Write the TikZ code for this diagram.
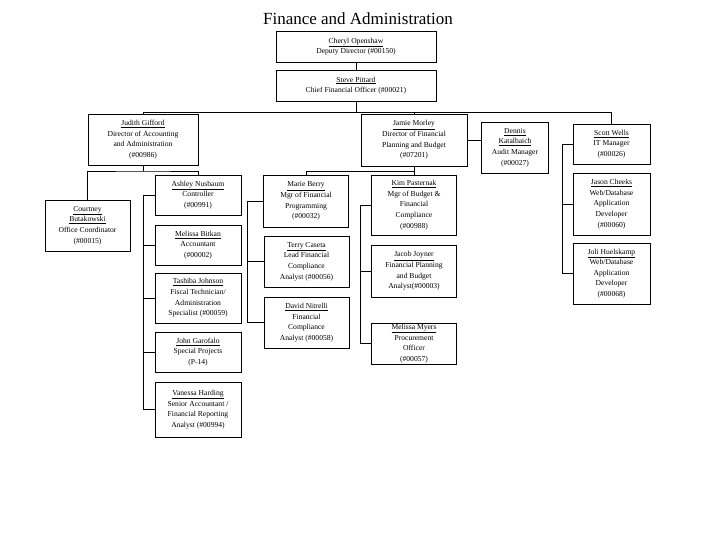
\documentclass[tikz,border=0pt]{standalone}
\usepackage{fontspec}
\setmainfont{Liberation Serif}
\begin{document}
\begin{tikzpicture}[x=1pt,y=-1pt,
 box/.style={draw,line width=0.8pt,align=center,inner sep=1pt,font=\fontsize{7.6}{10.6}\selectfont},
 ln/.style={line width=0.8pt}]
\useasboundingbox (0,0) rectangle (720,540);
\node[font=\fontsize{17}{20}\selectfont] (title) at (358,19) {Finance and Administration};
\node[box,minimum width=160,minimum height=31] (cheryl) at (356,46.5) {\underline{Cheryl Openshaw}\\Deputy Director (\#00150)};
\node[box,minimum width=160,minimum height=31] (steve) at (356,85.5) {\underline{Steve Pittard}\\Chief Financial Officer (\#00021)};
\node[box,minimum width=110,minimum height=51] (judith) at (143,139.5) {\underline{Judith Gifford}\\Director of Accounting\\and Administration\\(\#00986)};
\node[box,minimum width=106,minimum height=52] (jamie) at (414,140) {\underline{Jamie Morley}\\Director of Financial\\Planning and Budget\\(\#07201)};
\node[box,minimum width=67,minimum height=51] (dennis) at (515,147.5) {\underline{Dennis}\\\underline{Katalbaich}\\Audit Manager\\(\#00027)};
\node[box,minimum width=77,minimum height=40] (scott) at (611.5,144) {\underline{Scott Wells}\\IT Manager\\(\#00026)};
\node[box,minimum width=85,minimum height=51] (courtney) at (87.5,225.5) {\underline{Courtney}\\\underline{Butakowski}\\Office Coordinator\\(\#00015)};
\node[box,minimum width=86,minimum height=40] (ashley) at (198,195) {\underline{Ashley Nusbaum}\\Controller\\(\#00991)};
\node[box,minimum width=86,minimum height=40] (melb) at (198,245) {\underline{Melissa Bitkan}\\Accountant\\(\#00002)};
\node[box,minimum width=86,minimum height=50] (tashiba) at (198,298) {\underline{Tashiba Johnson}\\Fiscal Technician/\\Administration\\Specialist (\#00059)};
\node[box,minimum width=86,minimum height=40] (john) at (198,352) {\underline{John Garofalo}\\Special Projects\\(P-14)};
\node[box,minimum width=86,minimum height=55] (vanessa) at (198,409.5) {\underline{Vanessa Harding}\\Senior Accountant /\\Financial Reporting\\Analyst (\#00994)};
\node[box,minimum width=85,minimum height=52] (marie) at (306,201) {\underline{Marie Berry}\\Mgr of Financial\\Programming\\(\#00032)};
\node[box,minimum width=85,minimum height=51] (terry) at (306.5,261.5) {\underline{Terry Caseta}\\Lead Financial\\Compliance\\Analyst (\#00056)};
\node[box,minimum width=85,minimum height=51] (david) at (306.5,322.5) {\underline{David Nitrelli}\\Financial\\Compliance\\Analyst (\#00058)};
\node[box,minimum width=85,minimum height=60] (kim) at (414,205) {\underline{Kim Pasternak}\\Mgr of Budget \&\\Financial\\Compliance\\(\#00988)};
\node[box,minimum width=85,minimum height=52] (jacob) at (414,271) {\underline{Jacob Joyner}\\Financial Planning\\and Budget\\Analyst(\#00003)};
\node[box,minimum width=85,minimum height=41] (melm) at (414,343.5) {\underline{Melissa Myers}\\Procurement\\Officer\\(\#00057)};
\node[box,minimum width=77,minimum height=62] (jason) at (611.5,204) {\underline{Jason Cheeks}\\Web/Database\\Application\\Developer\\(\#00060)};
\node[box,minimum width=77,minimum height=61] (joli) at (611.5,273.5) {\underline{Joli Huelskamp}\\Web/Database\\Application\\Developer\\(\#00068)};
\coordinate (busL) at (143,112);
\coordinate (busR) at (611.5,112);
\coordinate (jb) at (143,171);
\coordinate (jb2) at (414,171);
\coordinate (av) at (143,0);
\coordinate (mv) at (247,0);
\coordinate (kv) at (360,0);
\coordinate (sv) at (562,0);
\draw[ln] (cheryl) -- (steve);
\draw[ln] (steve.south) -- (steve.south |- busL);
\draw[ln] (busL) -- (busR);
\draw[ln] (busL) -- (judith.north);
\draw[ln] (busR) -- (scott.north);
\draw[ln] (jamie.north) -- (jamie.north |- busL);
\draw[ln] (jamie.east) -- (jamie.east -| dennis.west);
\draw[ln] (judith.south) -- (jb);
\draw[ln] (courtney.north) |- (jb) -| (ashley.north);
\draw[ln] (ashley.west) -- (ashley.west -| av) |- (vanessa.west);
\foreach \n in {melb,tashiba,john} \draw[ln] (\n.west) -- (\n.west -| av);
\draw[ln] (jamie.south) -- (jb2);
\draw[ln] (marie.north) |- (jb2) -- (kim.north);
\draw[ln] (marie.west) -- (marie.west -| mv) |- (david.west);
\draw[ln] (terry.west) -- (terry.west -| mv);
\draw[ln] (kim.west) -- (kim.west -| kv) |- (melm.west);
\draw[ln] (jacob.west) -- (jacob.west -| kv);
\draw[ln] (scott.west) -- (scott.west -| sv) |- (joli.west);
\draw[ln] (jason.west) -- (jason.west -| sv);
\end{tikzpicture}
\end{document}
